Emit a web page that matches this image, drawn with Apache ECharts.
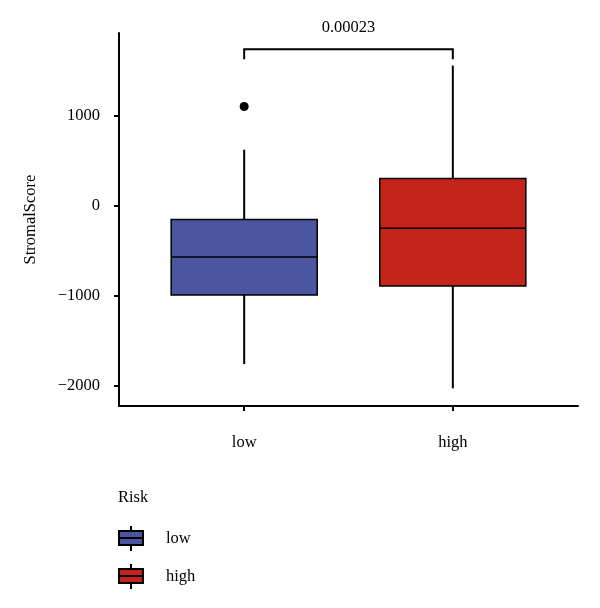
<!DOCTYPE html>
<html>
<head>
<meta charset="utf-8">
<script src="https://cdn.jsdelivr.net/npm/echarts@6/dist/echarts.min.js"></script>
<style>html,body{margin:0;padding:0;background:#fff}#c{width:600px;height:608px}</style>
</head>
<body>
<div id="c"></div>
<script>
// ---- data ----
const categories = ['low', 'high'];
// [lowerWhisker, Q1, median, Q3, upperWhisker]
const lowBox = [-1761, -994, -573, -156, 619];
const highBox = [-2030, -894, -252, 298, 1552];
const lowOutliers = [1098];
const highOutliers = [];
const yTicks = [-2000, -1000, 0, 1000];
const pValueLabel = '0.00023';
const bracketY = 1734;
const bracketLegY = 1623;
const colors = ['#4a56a0', '#c4241a'];

const FONT = 'Liberation Serif';
const FS = 16.5;

function boxRender(params, api) {
  const x = api.value(0);
  const lw = api.value(1), q1 = api.value(2), med = api.value(3), q3 = api.value(4), uw = api.value(5);
  const half = api.size([0.7, 0])[0] / 2;
  const pLw = api.coord([x, lw]), pQ1 = api.coord([x, q1]), pMed = api.coord([x, med]);
  const pQ3 = api.coord([x, q3]), pUw = api.coord([x, uw]);
  const cx = pMed[0];
  const fill = api.visual('color');
  return {
    type: 'group',
    children: [
      {type: 'line', shape: {x1: cx, y1: pQ3[1], x2: cx, y2: pUw[1]}, style: {stroke: '#000', lineWidth: 2}},
      {type: 'line', shape: {x1: cx, y1: pQ1[1], x2: cx, y2: pLw[1]}, style: {stroke: '#000', lineWidth: 2}},
      {type: 'rect', shape: {x: cx - half, y: pQ3[1], width: half * 2, height: pQ1[1] - pQ3[1]},
        style: {fill: fill, stroke: '#000', lineWidth: 1.5}},
      {type: 'line', shape: {x1: cx - half, y1: pMed[1], x2: cx + half, y2: pMed[1]}, style: {stroke: '#000', lineWidth: 1.5}}
    ]
  };
}

function bracketRender(params, api) {
  const x1 = api.value(0), x2 = api.value(1), y = api.value(2), yl = api.value(3);
  const a = api.coord([x1, yl]), b = api.coord([x1, y]), c = api.coord([x2, y]), d = api.coord([x2, yl]);
  return {
    type: 'group',
    children: [
      {type: 'polyline', shape: {points: [a, b, c, d]}, style: {stroke: '#000', lineWidth: 2, fill: null}},
      {type: 'text', x: (b[0] + c[0]) / 2, y: b[1] - 22,
        style: {text: pValueLabel, fill: '#000', font: FS + 'px "' + FONT + '"', align: 'center', verticalAlign: 'middle'}}
    ]
  };
}

const legendIcon = 'path://M0,5 L24,5 L24,12 L0,12 Z M0,12 L24,12 L24,19 L0,19 Z M12,0 L12,5 M12,19 L12,25';

const chart = echarts.init(document.getElementById('c'), null, {renderer: 'canvas'});
chart.setOption({
  animation: false,
  backgroundColor: '#fff',
  textStyle: {fontFamily: FONT},
  title: {text: 'Risk', left: 118, top: 489, padding: 0,
    textStyle: {fontFamily: FONT, fontSize: FS, fontWeight: 'normal', color: '#000'}},
  legend: {
    orient: 'vertical', left: 118, top: 525, padding: 0,
    itemWidth: 24, itemHeight: 25, itemGap: 11,
    icon: legendIcon,
    textStyle: {fontFamily: FONT, fontSize: FS, color: '#000', padding: [0, 0, 0, 18]},
    data: [
      {name: categories[0], itemStyle: {color: colors[0], borderColor: '#000', borderWidth: 2}},
      {name: categories[1], itemStyle: {color: colors[1], borderColor: '#000', borderWidth: 2}}
    ]
  },
  grid: {left: 119, right: 22, top: 33, bottom: 202, containLabel: false},
  xAxis: {
    type: 'value', min: 0.4, max: 2.6,
    splitLine: {show: false},
    axisLine: {show: true, onZero: false, lineStyle: {color: '#000', width: 2}},
    axisTick: {show: true, customValues: [1, 2], length: 5, lineStyle: {color: '#000', width: 2}},
    axisLabel: {customValues: [1, 2], margin: 28, color: '#000', fontFamily: FONT, fontSize: FS,
      formatter: v => categories[Math.round(v) - 1]}
  },
  yAxis: {
    type: 'value', min: -2226, max: 1914,
    name: 'StromalScore', nameLocation: 'middle', nameRotate: 90, nameGap: 80,
    nameTextStyle: {fontFamily: FONT, fontSize: FS, color: '#000', padding: [0, 0, 0, 0]},
    splitLine: {show: false},
    axisLine: {show: true, onZero: false, lineStyle: {color: '#000', width: 2}},
    axisTick: {show: true, customValues: yTicks, length: 5, lineStyle: {color: '#000', width: 2}},
    axisLabel: {customValues: yTicks, margin: 19, color: '#000', fontFamily: FONT, fontSize: FS,
      formatter: v => v < 0 ? '\u2212' + Math.abs(v) : String(v)}
  },
  series: [
    {name: categories[0], type: 'custom', renderItem: boxRender, itemStyle: {color: colors[0]},
      data: [[1].concat(lowBox)], encode: {x: 0, y: [1, 2, 3, 4, 5]}},
    {name: categories[1], type: 'custom', renderItem: boxRender, itemStyle: {color: colors[1]},
      data: [[2].concat(highBox)], encode: {x: 0, y: [1, 2, 3, 4, 5]}},
    {name: 'outliers', type: 'scatter', symbolSize: 9, itemStyle: {color: '#000', opacity: 1},
      data: lowOutliers.map(v => [1, v]).concat(highOutliers.map(v => [2, v]))},
    {name: 'bracket', type: 'custom', renderItem: bracketRender, clip: false,
      data: [[1, 2, bracketY, bracketLegY]], encode: {x: [0, 1], y: [2, 3]}}
  ]
});
</script>
</body>
</html>
